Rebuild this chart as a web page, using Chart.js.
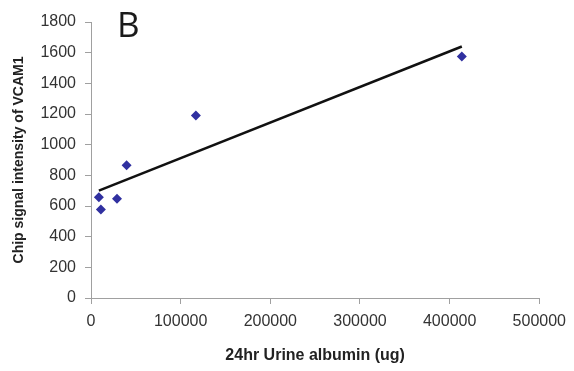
<!DOCTYPE html>
<html>
<head>
<meta charset="utf-8">
<script src="https://cdn.jsdelivr.net/npm/chart.js@4"></script>
<style>
  html, body { margin: 0; padding: 0; background: #fff; }
  #wrap { width: 574px; height: 371px; }
</style>
</head>
<body>
<div id="wrap"><canvas id="vcamChart" width="574" height="371"></canvas></div>
<script>
// values
const albumin = [8800, 11000, 29000, 39700, 117000, 413600];
const vcam1 = [657, 577, 647, 865, 1191, 1575];
// trend line end points
const trendX = [8800, 413600];
const trendY = [700, 1640];
const xTicks = [0, 100000, 200000, 300000, 400000, 500000];
const yTicks = [0, 200, 400, 600, 800, 1000, 1200, 1400, 1600, 1800];

const panelLabel = {
    id: 'panelLabel',
    afterDraw(chart) {
        const ctx = chart.ctx;
        ctx.save();
        ctx.font = '35px "Open Sans"';
        ctx.fillStyle = '#1a1a1a';
        ctx.textBaseline = 'alphabetic';
        ctx.fillText('B', 117, 37);
        ctx.restore();
    }
};

const ctx = document.getElementById('vcamChart').getContext('2d');

new Chart(ctx, {
    type: 'scatter',
    data: {
        datasets: [{
            label: 'VCAM1',
            data: albumin.map((x, i) => ({ x: x, y: vcam1[i] })),
            backgroundColor: '#3030a0',
            borderColor: '#3030a0',
            pointStyle: 'rectRot',
            pointRadius: 5,
            pointBorderWidth: 0,
            order: 1
        }, {
            label: 'Trend',
            data: trendX.map((x, i) => ({ x: x, y: trendY[i] })),
            showLine: true,
            borderColor: '#111',
            borderWidth: 2.5,
            pointRadius: 0,
            order: 2
        }]
    },
    options: {
        responsive: false,
        animation: false,
        layout: { padding: { top: 22, right: 31, left: 0, bottom: 0 } },
        plugins: {
            legend: { display: false },
            tooltip: { enabled: false }
        },
        scales: {
            x: {
                type: 'linear',
                min: 0,
                max: 500000,
                afterBuildTicks: s => { s.ticks = xTicks.map(v => ({ value: v })); },
                afterFit: s => { s.height = 73; },
                border: { color: '#a0a0a0', width: 1 },
                grid: { drawOnChartArea: false, drawTicks: true, tickLength: 6, color: '#a0a0a0' },
                ticks: {
                    color: '#333',
                    padding: 8,
                    maxRotation: 0,
                    font: { family: '"Liberation Sans", Arial', size: 16 },
                    callback: v => String(v)
                },
                title: {
                    display: true,
                    text: '24hr Urine albumin (ug)',
                    color: '#222',
                    padding: { top: 0, bottom: 6 },
                    font: { family: '"Liberation Sans", Arial', size: 16, weight: 'bold' }
                }
            },
            y: {
                min: 0,
                max: 1800,
                afterBuildTicks: s => { s.ticks = yTicks.map(v => ({ value: v })); },
                afterFit: s => { s.width = 91; },
                border: { color: '#a0a0a0', width: 1 },
                grid: { drawOnChartArea: false, drawTicks: true, tickLength: 6, color: '#a0a0a0' },
                ticks: {
                    color: '#333',
                    padding: 9,
                    font: { family: '"Liberation Sans", Arial', size: 16 },
                    callback: v => String(v)
                },
                title: {
                    display: true,
                    text: 'Chip signal intensity of VCAM1',
                    color: '#222',
                    padding: { top: 11, bottom: 0 },
                    font: { family: '"Liberation Sans", Arial', size: 14, weight: 'bold' }
                }
            }
        }
    },
    plugins: [panelLabel]
});
</script>
</body>
</html>
